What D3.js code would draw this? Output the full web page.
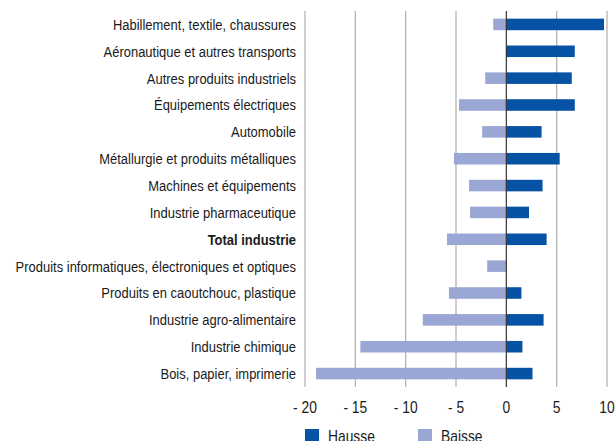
<!DOCTYPE html>
<html>
<head>
<meta charset="utf-8">
<script src="https://cdn.jsdelivr.net/npm/d3@7"></script>
<style>
  html, body { margin: 0; padding: 0; background: #fff; }
  svg { display: block; font-family: "Liberation Sans", Arial, sans-serif; }
</style>
</head>
<body>
<div id="chart"></div>
<script>
'use strict';

/* Data */
const categories = [
    'Habillement, textile, chaussures',
    'Aéronautique et autres transports',
    'Autres produits industriels',
    'Équipements électriques',
    'Automobile',
    'Métallurgie et produits métalliques',
    'Machines et équipements',
    'Industrie pharmaceutique',
    'Total industrie',
    'Produits informatiques, électroniques et optiques',
    'Produits en caoutchouc, plastique',
    'Industrie agro-alimentaire',
    'Industrie chimique',
    'Bois, papier, imprimerie'
];
const hausse = [9.7, 6.8, 6.5, 6.8, 3.5, 5.3, 3.6, 2.25, 4.0, 0, 1.5, 3.7, 1.6, 2.6];
const baisse = [-1.3, 0, -2.1, -4.7, -2.4, -5.2, -3.7, -3.6, -5.9, -1.9, -5.7, -8.3, -14.5, -18.9];
const xTicks = [-20, -15, -10, -5, 0, 5, 10];
const seriesNames = ['Hausse', 'Baisse'];

const W = 616, H = 441;
const margin = { top: 11, right: 9, bottom: 54, left: 305 };
const COL_UP = '#0652a5';
const COL_DOWN = '#9aa6d3';
const NARROW = 0.865; // the reference uses a condensed face; squeeze a regular one

const svg = d3.select('#chart').append('svg').attr('width', W).attr('height', H);

const x = d3.scaleLinear().domain([-20, 10]).range([margin.left, W - margin.right]);
const y = d3.scaleBand().domain(categories).range([margin.top, H - margin.bottom]).paddingInner(0.57).paddingOuter(0.285);

/* Gridlines */
svg.append('g').selectAll('line')
    .data(xTicks.filter(d => d !== 0))
    .join('line')
    .attr('x1', d => x(d)).attr('x2', d => x(d))
    .attr('y1', margin.top).attr('y2', H - margin.bottom)
    .attr('stroke', '#b4b4b4').attr('stroke-width', 1.3);

/* Bars */
const bars = svg.append('g');
bars.selectAll('rect.down')
    .data(categories.map((c, i) => ({ c, v: baisse[i] })).filter(d => d.v !== 0))
    .join('rect')
    .attr('class', 'down')
    .attr('x', d => x(d.v)).attr('width', d => x(0) - x(d.v))
    .attr('y', d => y(d.c)).attr('height', y.bandwidth())
    .attr('fill', COL_DOWN);
bars.selectAll('rect.up')
    .data(categories.map((c, i) => ({ c, v: hausse[i] })).filter(d => d.v !== 0))
    .join('rect')
    .attr('class', 'up')
    .attr('x', x(0)).attr('width', d => x(d.v) - x(0))
    .attr('y', d => y(d.c)).attr('height', y.bandwidth())
    .attr('fill', COL_UP);

/* Zero line */
svg.append('line')
    .attr('x1', x(0)).attr('x2', x(0))
    .attr('y1', margin.top).attr('y2', H - margin.bottom)
    .attr('stroke', '#333').attr('stroke-width', 1.2);

/* Category labels */
svg.append('g').selectAll('text')
    .data(categories)
    .join('text')
    .attr('transform', d => `translate(${margin.left - 9},${y(d) + y.bandwidth() / 2}) scale(${NARROW},1)`)
    .attr('dy', '0.36em')
    .attr('text-anchor', 'end')
    .attr('font-size', 15)
    .attr('font-weight', d => d === 'Total industrie' ? 'bold' : 'normal')
    .attr('fill', '#1a1a1a')
    .text(d => d);

/* X tick labels */
svg.append('g').selectAll('text')
    .data(xTicks)
    .join('text')
    .attr('transform', d => `translate(${x(d)},413) scale(${NARROW},1)`)
    .attr('text-anchor', 'middle')
    .attr('font-size', 16)
    .attr('fill', '#1a1a1a')
    .text(d => d < 0 ? '- ' + Math.abs(d) : String(d));

/* Legend */
const legend = svg.append('g').attr('transform', 'translate(305,429)');
const items = legend.selectAll('g')
    .data(seriesNames)
    .join('g')
    .attr('transform', (d, i) => `translate(${i * 113},0)`);
items.append('rect').attr('width', 14).attr('height', 14)
    .attr('fill', (d, i) => i === 0 ? COL_UP : COL_DOWN);
items.append('text')
    .attr('transform', `translate(23,12.5) scale(${NARROW},1)`)
    .attr('font-size', 16).attr('fill', '#1a1a1a')
    .text(d => d);
</script>
</body>
</html>
